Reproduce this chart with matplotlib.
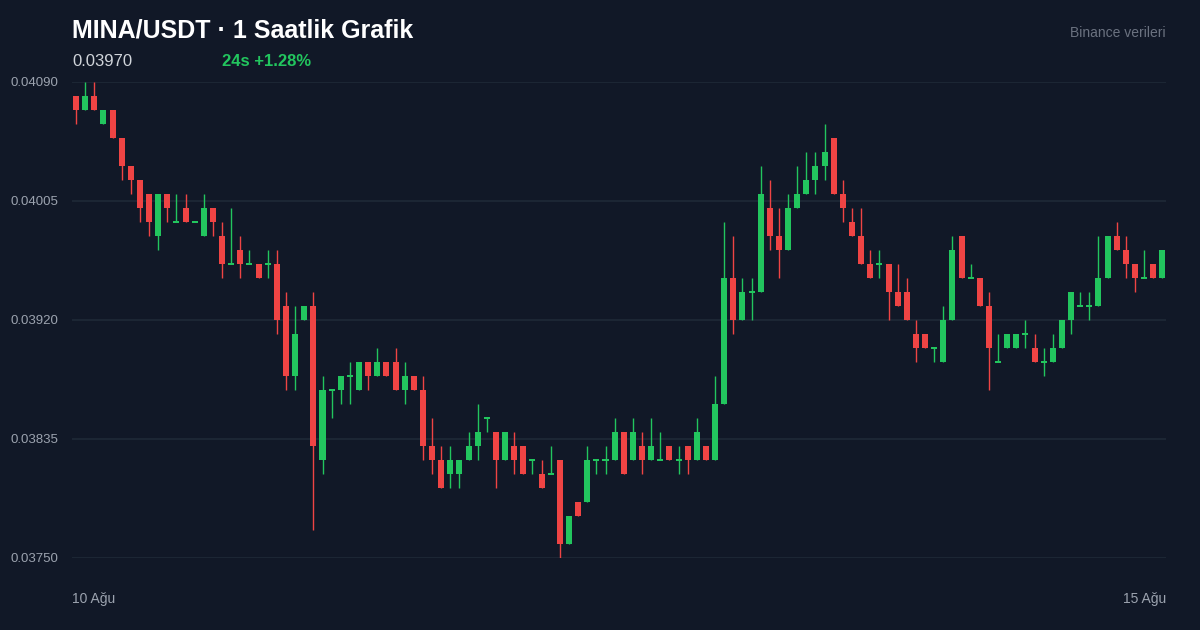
import numpy as np
import matplotlib.pyplot as plt

plt.rcParams["font.family"] = ["Liberation Sans", "DejaVu Sans"]

# prices in units of 1e-5 USDT (4080 -> 0.04080), hourly candles
opens = np.array([
    4080, 4070, 4080, 4060, 4070, 4050, 4030, 4020, 4010, 3980,
    4010, 3990, 4000, 3990, 3980, 4000, 3980, 3960, 3970, 3960,
    3960, 3960, 3960, 3930, 3880, 3920, 3930, 3820, 3870, 3870,
    3880, 3870, 3890, 3880, 3890, 3890, 3870, 3880, 3870, 3830,
    3820, 3810, 3810, 3820, 3830, 3850, 3840, 3820, 3830, 3830,
    3820, 3810, 3810, 3820, 3760, 3790, 3790, 3820, 3820, 3820,
    3840, 3820, 3830, 3820, 3820, 3830, 3820, 3830, 3820, 3830,
    3820, 3860, 3950, 3920, 3940, 3940, 4000, 3980, 3970, 4000,
    4010, 4020, 4030, 4050, 4010, 3990, 3980, 3960, 3960, 3960,
    3940, 3940, 3910, 3910, 3900, 3890, 3920, 3980, 3950, 3950,
    3930, 3890, 3900, 3900, 3910, 3900, 3890, 3890, 3900, 3920,
    3930, 3930, 3930, 3950, 3980, 3970, 3960, 3950, 3960, 3950]) / 1e5
highs = np.array([
    4080, 4090, 4090, 4070, 4070, 4050, 4030, 4020, 4010, 4010,
    4010, 4010, 4010, 3990, 4010, 4000, 3990, 4000, 3980, 3970,
    3960, 3970, 3970, 3940, 3930, 3930, 3940, 3880, 3870, 3880,
    3890, 3890, 3890, 3900, 3890, 3900, 3890, 3880, 3880, 3850,
    3830, 3830, 3820, 3840, 3860, 3850, 3840, 3840, 3840, 3830,
    3820, 3820, 3830, 3820, 3780, 3790, 3830, 3820, 3830, 3850,
    3840, 3850, 3840, 3850, 3840, 3830, 3830, 3830, 3850, 3830,
    3880, 3990, 3980, 3950, 3950, 4030, 4020, 4000, 4010, 4030,
    4040, 4040, 4060, 4050, 4020, 4000, 4000, 3970, 3970, 3960,
    3960, 3950, 3920, 3910, 3900, 3930, 3980, 3980, 3960, 3950,
    3940, 3910, 3910, 3910, 3920, 3910, 3900, 3910, 3920, 3940,
    3940, 3940, 3980, 3980, 3990, 3980, 3960, 3970, 3960, 3970]) / 1e5
lows = np.array([
    4060, 4070, 4070, 4060, 4050, 4020, 4010, 3990, 3980, 3970,
    3990, 3990, 3990, 3990, 3980, 3980, 3950, 3960, 3950, 3960,
    3950, 3950, 3910, 3870, 3870, 3920, 3770, 3810, 3850, 3860,
    3860, 3870, 3870, 3880, 3880, 3870, 3860, 3870, 3820, 3810,
    3800, 3800, 3800, 3820, 3820, 3840, 3800, 3820, 3810, 3810,
    3810, 3800, 3810, 3750, 3760, 3780, 3790, 3810, 3810, 3820,
    3810, 3820, 3810, 3820, 3820, 3820, 3810, 3810, 3820, 3820,
    3820, 3860, 3910, 3920, 3920, 3940, 3970, 3950, 3970, 4000,
    4010, 4010, 4020, 4010, 3990, 3980, 3960, 3950, 3950, 3920,
    3930, 3920, 3890, 3900, 3890, 3890, 3920, 3950, 3950, 3930,
    3870, 3890, 3900, 3900, 3900, 3890, 3880, 3890, 3900, 3910,
    3930, 3920, 3930, 3950, 3970, 3950, 3940, 3950, 3950, 3950]) / 1e5
closes = np.array([
    4070, 4080, 4070, 4070, 4050, 4030, 4020, 4000, 3990, 4010,
    4000, 3990, 3990, 3990, 4000, 3990, 3960, 3960, 3960, 3960,
    3950, 3960, 3920, 3880, 3910, 3930, 3830, 3870, 3870, 3880,
    3880, 3890, 3880, 3890, 3880, 3870, 3880, 3870, 3830, 3820,
    3800, 3820, 3820, 3830, 3840, 3850, 3820, 3840, 3820, 3810,
    3820, 3800, 3810, 3760, 3780, 3780, 3820, 3820, 3820, 3840,
    3810, 3840, 3820, 3830, 3820, 3820, 3820, 3820, 3840, 3820,
    3860, 3950, 3920, 3940, 3940, 4010, 3980, 3970, 4000, 4010,
    4020, 4030, 4040, 4010, 4000, 3980, 3960, 3950, 3960, 3940,
    3930, 3920, 3900, 3900, 3900, 3920, 3970, 3950, 3950, 3930,
    3900, 3890, 3910, 3910, 3910, 3890, 3890, 3900, 3920, 3940,
    3930, 3930, 3950, 3980, 3970, 3960, 3950, 3950, 3950, 3970]) / 1e5

yticks = [0.03750, 0.03835, 0.03920, 0.04005, 0.04090]
title = "MINA/USDT · 1 Saatlik Grafik"
last_price = "0.03970"
change = "24s +1.28%"
date_labels = ["10 Ağu", "15 Ağu"]

BG = "#111827"
GREEN = "#22c55e"
RED = "#ef4444"

fig = plt.figure(figsize=(12, 6.3), dpi=100, facecolor=BG)
ax = fig.add_axes([0.06, 0.1143, 0.9117, 0.7556])
ax.set_facecolor(BG)

x = np.arange(len(closes))
up = closes >= opens
colors = np.where(up, GREEN, RED)
ax.vlines(x, lows, highs, colors=colors, linewidth=1, zorder=2)
bottom = np.minimum(opens, closes)
height = np.maximum(np.abs(closes - opens), 0.000012)
bottom = np.where(closes == opens, bottom - 0.000006, bottom)
ax.bar(x, height, bottom=bottom, width=0.66, color=colors, zorder=3)

ax.set_xlim(-0.44, 119.4)
ax.set_ylim(0.03750, 0.04090)
ax.set_yticks(yticks)
ax.set_yticklabels([f"{v:.5f}" for v in yticks])
ax.set_xticks([])
ax.tick_params(axis="y", length=0, pad=10, labelsize=9.5, labelcolor="#9ca3af")
ax.grid(axis="y", color="#1f2937", linewidth=1.2, zorder=0)
for s in ax.spines.values():
    s.set_visible(False)

fig.text(72 / 1200, 1 - 30 / 630, title, color="white", fontsize=18, fontweight="bold", va="center")
fig.text(72 / 1200, 1 - 61 / 630, last_price, color="#d1d5db", fontsize=12, va="center")
fig.text(222 / 1200, 1 - 61 / 630, change, color=GREEN, fontsize=12, fontweight="bold", va="center")
fig.text(1166 / 1200, 1 - 33 / 630, "Binance verileri", color="#6b7280", fontsize=10, ha="right", va="center")
fig.text(72 / 1200, 1 - 599 / 630, date_labels[0], color="#9ca3af", fontsize=10, va="center")
fig.text(1166 / 1200, 1 - 599 / 630, date_labels[1], color="#9ca3af", fontsize=10, ha="right", va="center")

fig.savefig("out.png", facecolor=BG)
